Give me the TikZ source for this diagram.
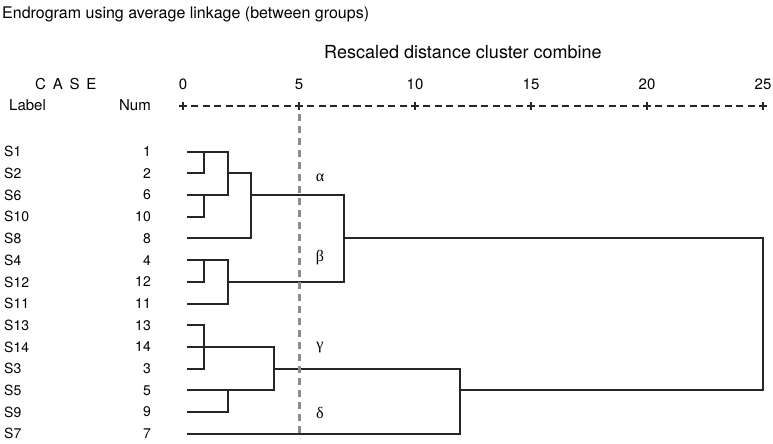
\documentclass[tikz,border=0pt]{standalone}
\usepackage{fontspec}
\setmainfont{TeX Gyre Heros}
\newfontfamily\grk{Liberation Serif}
\begin{document}
\begin{tikzpicture}[x=1pt,y=-1pt,
  txt/.style={inner sep=0pt, font=\fontsize{16}{18}\selectfont},
  sub/.style={inner sep=0pt, font=\fontsize{18}{20}\selectfont},
  hdr/.style={inner sep=0pt, font=\fontsize{15}{17}\selectfont},
  rowlab/.style={inner sep=0pt, font=\fontsize{14}{16}\selectfont},
  greek/.style={inner sep=0pt, font=\grk\fontsize{16}{18}\selectfont},
  dl/.style={draw=black!85, line width=1.8pt, line cap=rect},
  axis/.style={draw=black!85, line width=1.6pt},
  cut/.style={draw=black!45, line width=2.4pt, dash pattern=on 7pt off 5pt}]
\useasboundingbox (0,0) rectangle (773,444);
% titles
\node[txt, anchor=base west] (title) at (2,18.3) {Endrogram using average linkage (between groups)};
\node[sub, anchor=base west] (rescaled) at (324,59) {Rescaled distance cluster combine};
\node[hdr, anchor=base west] (case) at (35,89.3) {C\hspace{0.45em}A\hspace{0.45em}S\hspace{0.45em}E};
\node[hdr, anchor=base west] (label) at (9,110.7) {Label};
\node[hdr, anchor=base east] (num) at (151,110.7) {Num};
% axis
\foreach \k/\lab in {0/0,1/5,2/10,3/15,4/20,5/25}{
  \node[hdr, anchor=base] (t\k) at ({183+116*\k},89.5) {\lab};
  \draw[axis] ({183+116*\k-4},106) -- ({183+116*\k+4},106);
  \draw[axis] ({183+116*\k},102) -- ({183+116*\k},110);
}
\foreach \k in {0,...,4}{
  \foreach \j in {1,...,9}{
    \draw[axis] ({183+116*\k+11.6*\j-3.6},106) -- ({183+116*\k+11.6*\j+3.6},106);
  }
}
% rows
\foreach \lab/\num [count=\i from 0] in {S1/1,S2/2,S6/6,S10/10,S8/8,S4/4,S12/12,S11/11,S13/13,S14/14,S3/3,S5/5,S9/9,S7/7}{
  \node[rowlab, anchor=west] (lab\i) at (4,{151.7+21.7*\i}) {\lab};
  \node[rowlab, anchor=east] (num\i) at (151,{151.7+21.7*\i}) {\num};
  \coordinate (r\i) at (0,{round(151.7+21.7*\i)});
}
% columns
\coordinate (L) at (188,0);
\coordinate (A) at (204,0);
\coordinate (B) at (228,0);
\coordinate (C) at (251,0);
\coordinate (D) at (274,0);
\coordinate (E) at (344,0);
\coordinate (F) at (460,0);
\coordinate (G) at (763,0);
% alpha group
\draw[dl] (L|-r0) -- (B|-r0);
\draw[dl] (L|-r1) -- (A|-r1);
\draw[dl] (A|-r0) -- (A|-r1);
\draw[dl] (L|-r2) -- (B|-r2);
\draw[dl] (L|-r3) -- (A|-r3);
\draw[dl] (A|-r2) -- (A|-r3);
\draw[dl] (B|-r0) -- (B|-r2);
\draw[dl] (B|-r1) -- (C|-r1);
\draw[dl] (L|-r4) -- (C|-r4);
\draw[dl] (C|-r1) -- (C|-r4);
\draw[dl] (C|-r2) -- (E|-r2);
% beta group
\draw[dl] (L|-r5) -- (B|-r5);
\draw[dl] (L|-r6) -- (A|-r6);
\draw[dl] (A|-r5) -- (A|-r6);
\draw[dl] (L|-r7) -- (B|-r7);
\draw[dl] (B|-r5) -- (B|-r7);
\draw[dl] (B|-r6) -- (E|-r6);
\draw[dl] (E|-r2) -- (E|-r6);
\draw[dl] (E|-r4) -- (G|-r4);
\draw[dl] (G|-r4) -- (G|-r11);
% gamma group
\draw[dl] (L|-r8) -- (A|-r8);
\draw[dl] (A|-r8) -- (A|-r10);
\draw[dl] (L|-r10) -- (A|-r10);
\draw[dl] (L|-r9) -- (D|-r9);
\draw[dl] (L|-r11) -- (D|-r11);
\draw[dl] (D|-r9) -- (D|-r11);
\draw[dl] (L|-r12) -- (B|-r12);
\draw[dl] (B|-r11) -- (B|-r12);
\draw[dl] (D|-r10) -- (F|-r10);
% delta
\draw[dl] (L|-r13) -- (F|-r13);
\draw[dl] (F|-r10) -- (F|-r13);
\draw[dl] (F|-r11) -- (G|-r11);
% cut line
\coordinate (cuttop) at (299.5,114);
\coordinate (cutbot) at (299.5,438);
\draw[cut] (cuttop) -- (cutbot);
% greek labels
\node[greek] (alpha) at (320,178) {α};
\node[greek] (beta) at (320,258) {β};
\node[greek] (gamma) at (320,348) {γ};
\node[greek] (delta) at (320,413) {δ};
\end{tikzpicture}
\end{document}
